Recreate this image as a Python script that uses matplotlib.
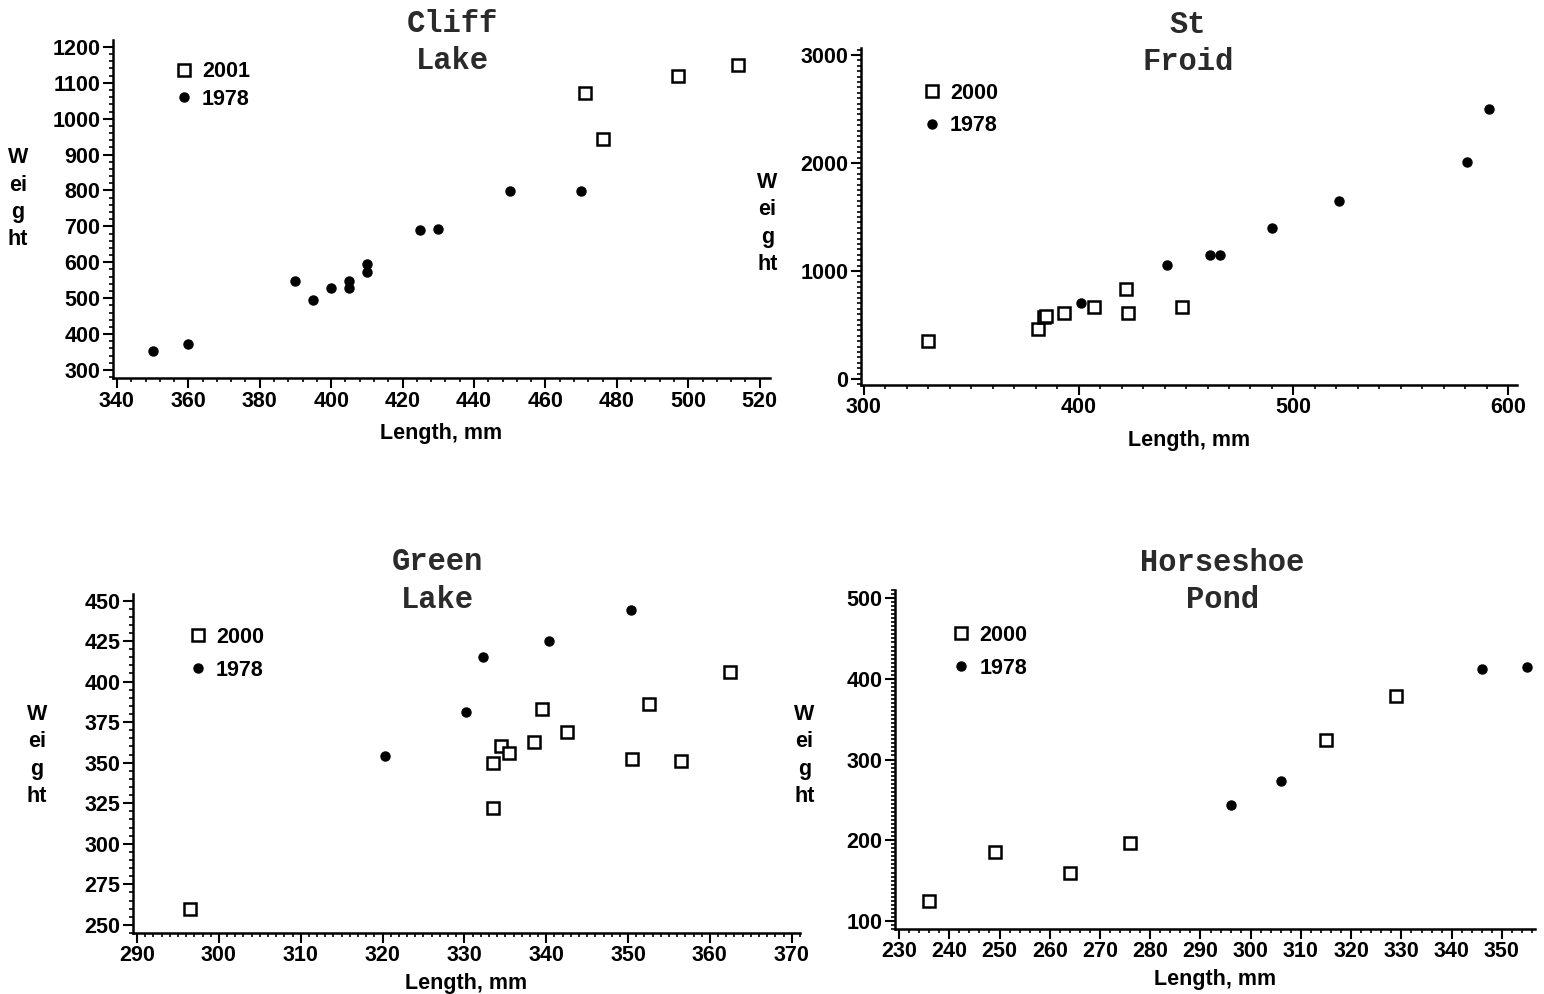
import numpy as np
import matplotlib
matplotlib.use("Agg")
import matplotlib.pyplot as plt
from matplotlib.ticker import MultipleLocator
from matplotlib.font_manager import FontProperties

# ---- data ----
# Cliff Lake
cliff_new_x = [471, 476, 497, 514]
cliff_new_y = [1071, 943, 1119, 1150]
cliff_old_x = [350, 360, 390, 395, 400, 405, 405, 410, 410, 425, 430, 450, 470]
cliff_old_y = [353, 372, 548, 495, 528, 548, 528, 595, 573, 690, 693, 798, 798]

# St Froid
froid_new_x = [330, 381, 384, 385, 393, 407, 422, 423, 448]
froid_new_y = [352, 463, 574, 582, 611, 667, 833, 611, 667]
froid_old_x = [401, 441, 461, 466, 490, 521, 581, 591]
froid_old_y = [704, 1055, 1148, 1148, 1398, 1648, 2009, 2500]

# Green Lake
green_new_x = [296.5, 333.5, 333.5, 334.5, 335.5, 338.5, 339.5, 342.5, 350.5, 352.5, 356.5, 362.5]
green_new_y = [260, 322, 350, 360, 356, 363, 383, 369, 352, 386, 351, 406]
green_old_x = [320.3, 330.2, 332.3, 340.3, 350.3]
green_old_y = [354, 381, 415, 425, 444]

# Horseshoe Pond
horse_new_x = [236, 249, 264, 276, 315, 329]
horse_new_y = [125, 185, 159, 197, 324, 379]
horse_old_x = [296, 306, 346, 355]
horse_old_y = [244, 273, 412, 415]

fig = plt.figure(figsize=(15.44, 9.94), dpi=100)

panels = [
    dict(rect=[0.0732, 0.6197, 0.4255, 0.340], title="Cliff\nLake", tpos=(0.516, 0.992),
         labels=("2001", "1978"), new=(cliff_new_x, cliff_new_y), old=(cliff_old_x, cliff_old_y),
         xlim=(338.9, 522.9), ylim=(277.7, 1219), xmaj=20, xmin=4, ymaj=100, ymin=20,
         xt=(340, 520), yt=(300, 1200), ylab=(0.0117, 0.80), lpad=8, leg=(0.065, 0.995), ls=0.3),
    dict(rect=[0.5576, 0.6127, 0.4249, 0.339], title="St\nFroid", tpos=(0.498, 1.014),
         labels=("2000", "1978"), new=(froid_new_x, froid_new_y), old=(froid_old_x, froid_old_y),
         xlim=(298.6, 604.1), ylim=(-55.6, 3065), xmaj=100, xmin=10, ymaj=1000, ymin=50,
         xt=(300, 600), yt=(0, 3000), ylab=(0.497, 0.775), lpad=8, leg=(0.065, 0.955), ls=0.55),
    dict(rect=[0.0861, 0.0614, 0.432, 0.341], title="Green\nLake", tpos=(0.457, 1.038),
         labels=("2000", "1978"), new=(green_new_x, green_new_y), old=(green_old_x, green_old_y),
         xlim=(289.5, 371), ylim=(245, 454), xmaj=10, xmin=1, ymaj=25, ymin=5,
         xt=(290, 370), yt=(250, 450), ylab=(0.024, 0.24), lpad=5, leg=(0.055, 0.96), ls=0.55),
    dict(rect=[0.5797, 0.0654, 0.4145, 0.341], title="Horseshoe\nPond", tpos=(0.511, 1.026),
         labels=("2000", "1978"), new=(horse_new_x, horse_new_y), old=(horse_old_x, horse_old_y),
         xlim=(229.2, 356.6), ylim=(90, 510), xmaj=10, xmin=2, ymaj=100, ymin=5,
         xt=(230, 350), yt=(100, 500), ylab=(0.521, 0.24), lpad=5, leg=(0.06, 0.955), ls=0.55),
]

tickfont = dict(family="Liberation Sans", weight="bold", size=15.5)

for p in panels:
    ax = fig.add_axes(p["rect"])
    ax.plot(*p["new"], linestyle="none", marker="s", ms=8, mfc="white", mec="black",
            mew=1.8, label=p["labels"][0])
    ax.plot(*p["old"], linestyle="none", marker="o", ms=6.5, mfc="black", mec="black",
            label=p["labels"][1])
    ax.set_xlim(*p["xlim"])
    ax.set_ylim(*p["ylim"])
    ax.set_xticks(np.arange(p["xt"][0], p["xt"][1] + 0.1, p["xmaj"]))
    ax.set_yticks(np.arange(p["yt"][0], p["yt"][1] + 0.1, p["ymaj"]))
    ax.xaxis.set_minor_locator(MultipleLocator(p["xmin"]))
    ax.yaxis.set_minor_locator(MultipleLocator(p["ymin"]))
    ax.spines["top"].set_visible(False)
    ax.spines["right"].set_visible(False)
    for s in ("left", "bottom"):
        ax.spines[s].set_linewidth(1.8)
    ax.tick_params(which="major", direction="out", length=7, width=1.5, pad=2)
    ax.tick_params(which="minor", direction="out", length=3, width=1.2)
    for lab in ax.get_xticklabels() + ax.get_yticklabels():
        lab.set_fontproperties(FontProperties(**tickfont))
    ax.set_xlabel("Length, mm", fontfamily="Liberation Sans", fontweight="bold",
                  fontsize=15.5, labelpad=p["lpad"])
    ax.text(p["tpos"][0], p["tpos"][1], p["title"], transform=ax.transAxes,
            ha="center", va="center", fontfamily="Liberation Mono", fontweight="bold",
            fontsize=22, color="#2a2a2a", linespacing=1.32)
    fig.text(p["ylab"][0], p["ylab"][1], "W\nei\ng\nht", ha="center", va="center",
             fontfamily="Liberation Sans", fontweight="bold", fontsize=15.5, linespacing=1.4)
    ax.legend(loc="upper left", bbox_to_anchor=p["leg"], frameon=False, handlelength=0.8,
              handletextpad=0.45, labelspacing=p["ls"],
              prop=dict(family="Liberation Sans", weight="bold", size=15.5))

fig.savefig("out.png", dpi=100)
